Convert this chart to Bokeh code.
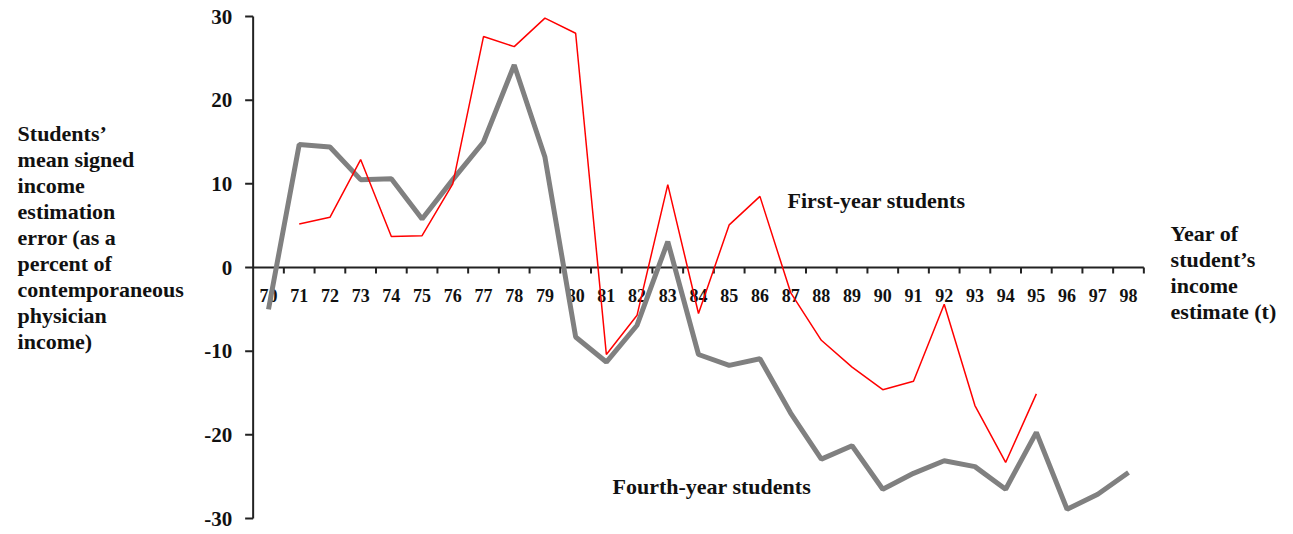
from bokeh.plotting import figure
from bokeh.models import Range1d
from bokeh.core.properties import value
from bokeh.embed import file_html
from bokeh.resources import INLINE

nan = float("nan")

years = list(range(70, 99))
year_labels = [str(y) for y in years]

fourth_year = [-5.0, 14.7, 14.4, 10.5, 10.6, 5.8, 10.5, 15.0, 24.2, 13.2,
               -8.3, -11.3, -6.9, 3.1, -10.4, -11.7, -10.9, -17.4, -22.9, -21.3,
               -26.5, -24.6, -23.1, -23.8, -26.5, -19.7, -28.9, -27.1, -24.5]
first_year = [nan, 5.2, 6.0, 12.9, 3.7, 3.8, 10.0, 27.6, 26.4, 29.8,
              28.0, -10.4, -5.7, 9.9, -5.5, 5.1, 8.5, -3.0, -8.7, -11.9,
              -14.6, -13.6, -4.4, -16.5, -23.3, -15.1, nan, nan, nan]

y_ticks = [-30, -20, -10, 0, 10, 20, 30]
y_tick_labels = ["-30", "-20", "-10", "0", "10", "20", "30"]

y_title = "Students\u2019\nmean signed\nincome\nestimation\nerror (as a\npercent of\ncontemporaneous\nphysician\nincome)"
x_title = "Year of\nstudent\u2019s\nincome\nestimate (t)"
series_names = ["First-year students", "Fourth-year students"]

FONT = "Liberation Serif"
W, H = 1285, 532

# pixel geometry of the plotting area (canvas pixels)
px_per_year = 860 / 28.0
px_per_unit = 502 / 60.0
x0_px, y0_px = 268.0, 267.0   # pixel of year 70 / value 0
x_start = years[0] - x0_px / px_per_year
y_end = y0_px / px_per_unit

p = figure(width=W, height=H, output_backend="svg", toolbar_location=None,
           x_axis_location=None, y_axis_location=None,
           x_range=Range1d(x_start, x_start + W / px_per_year),
           y_range=Range1d(y_end - H / px_per_unit, y_end),
           min_border=0)
p.outline_line_color = None
p.grid.visible = False
p.background_fill_color = "white"
p.border_fill_color = "white"

AX = "#222222"
TXT = "#111111"
x_left = years[0] - 0.5
x_right = years[-1] + 0.5

# y axis
p.segment(x0=[x_left], y0=[y_ticks[0]], x1=[x_left], y1=[y_ticks[-1]],
          line_color=AX, line_width=2)
p.segment(x0=[x_left - 8 / px_per_year] * len(y_ticks), y0=y_ticks,
          x1=[x_left] * len(y_ticks), y1=y_ticks, line_color=AX, line_width=2)
p.text(x=[x_left] * len(y_ticks), y=y_ticks, text=y_tick_labels, x_offset=-21,
       text_font=value(FONT), text_font_style="bold", text_font_size="21px",
       text_align="right", text_baseline="middle", text_color=TXT)

# x axis through zero
bounds = [y + 0.5 for y in years]
p.segment(x0=[x_left], y0=[0], x1=[x_right], y1=[0], line_color=AX, line_width=2)
p.segment(x0=bounds, y0=[0] * len(bounds), x1=bounds,
          y1=[-6 / px_per_unit] * len(bounds), line_color=AX, line_width=2)
p.text(x=years, y=[0] * len(years), text=year_labels, y_offset=28,
       text_font=value(FONT), text_font_style="bold", text_font_size="18px",
       text_align="center", text_baseline="middle", text_color=TXT)

# data
p.line(years, fourth_year, line_color="#808080", line_width=5)
p.line(years, first_year, line_color="#ff0000", line_width=1.5)

# texts
common = dict(text_font=value(FONT), text_font_style="bold", text_font_size="22px",
              text_color=TXT, text_align="left")
p.text(x=[86.9], y=[8.0], text=[series_names[0]], text_baseline="middle", **common)
p.text(x=[81.2], y=[-26.2], text=[series_names[1]], text_baseline="middle", **common)
p.text(x=[61.83], y=[17.5], text=[y_title], text_baseline="top",
       text_line_height=1.04, **common)
p.text(x=[99.37], y=[5.5], text=[x_title], text_baseline="top",
       text_line_height=1.04, **common)

open("out.html", "w").write(file_html(p, INLINE))
